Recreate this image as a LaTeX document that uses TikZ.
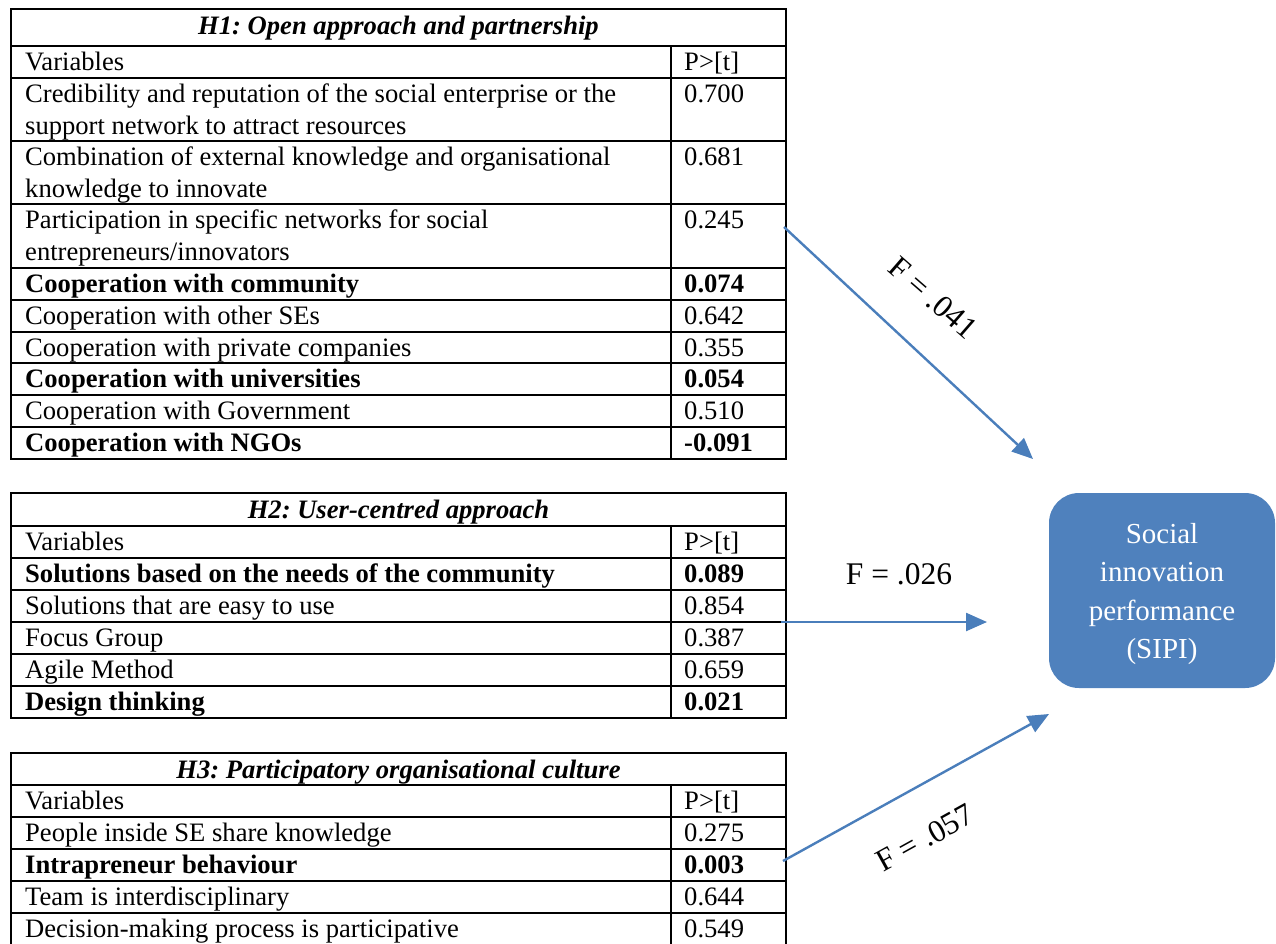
\documentclass[tikz,border=0pt]{standalone}
\usepackage{fontspec}
\setmainfont{Liberation Serif}
\usetikzlibrary{arrows.meta}
\definecolor{arrowblue}{HTML}{4A7EBB}
\definecolor{boxblue}{HTML}{4F81BD}
\newcommand\tabfont{\fontsize{26.6}{31.5}\selectfont}
\newcommand\flfont{\fontsize{31.5}{36}\selectfont}
\newcommand\boxfont{\fontsize{29}{38.5}\selectfont}
\frenchspacing
\begin{document}
\begin{tikzpicture}[x=1pt,y=-1pt,
  tline/.style={line width=1.7pt},
  cell/.style={anchor=base west,inner sep=0pt,font=\tabfont},
  bcell/.style={cell,font=\tabfont\bfseries},
  hcell/.style={anchor=base,inner sep=0pt,font=\tabfont\bfseries\itshape},
  conn/.style={draw=arrowblue,line width=2.4pt,-{Triangle[length=21pt,width=18pt]}},
  flabel/.style={font=\flfont,inner sep=0pt}
]
\useasboundingbox (0,0) rectangle (1276,943);

% ---------- Table H1 ----------
\draw[tline] (11,9) rectangle (786,459);
\foreach \y in {46,78,141,204,268,300,332,363,395,427} \draw[tline] (11,\y) -- (786,\y);
\draw[tline] (671,46) -- (671,459);
\node[hcell] (h1) at (398.5,34) {H1: Open approach and partnership};
\node[cell] (h1v) at (25,70.5) {Variables};
\node[cell] (h1p) at (684,70.5) {P>[t]};
\node[cell] (h1r1a) at (25,102.5) {Credibility and reputation of the social enterprise or the};
\node[cell] (h1r1b) at (25,134) {support network to attract resources};
\node[cell] (h1r1v) at (684,102.5) {0.700};
\node[cell] (h1r2a) at (25,165.5) {Combination of external knowledge and organisational};
\node[cell] (h1r2b) at (25,197) {knowledge to innovate};
\node[cell] (h1r2v) at (684,165.5) {0.681};
\node[cell] (h1r3a) at (25,228.5) {Participation in specific networks for social};
\node[cell] (h1r3b) at (25,260) {entrepreneurs/innovators};
\node[cell] (h1r3v) at (684,228.5) {0.245};
\node[bcell] (h1r4) at (25,292.5) {Cooperation with community};
\node[bcell] (h1r4v) at (684,292.5) {0.074};
\node[cell] (h1r5) at (25,324.5) {Cooperation with other SEs};
\node[cell] (h1r5v) at (684,324.5) {0.642};
\node[cell] (h1r6) at (25,356) {Cooperation with private companies};
\node[cell] (h1r6v) at (684,356) {0.355};
\node[bcell] (h1r7) at (25,387.5) {Cooperation with universities};
\node[bcell] (h1r7v) at (684,387.5) {0.054};
\node[cell] (h1r8) at (25,419.5) {Cooperation with Government};
\node[cell] (h1r8v) at (684,419.5) {0.510};
\node[bcell] (h1r9) at (25,451.5) {Cooperation with NGOs};
\node[bcell] (h1r9v) at (684,451.5) {-0.091};

% ---------- Table H2 ----------
\draw[tline] (11,493) rectangle (786,718);
\foreach \y in {526,558,590,622,654,686} \draw[tline] (11,\y) -- (786,\y);
\draw[tline] (671,526) -- (671,718);
\node[hcell] (h2) at (398.5,518.5) {H2: User-centred approach};
\node[cell] (h2v) at (25,550.5) {Variables};
\node[cell] (h2p) at (684,550.5) {P>[t]};
\node[bcell] (h2r1) at (25,582.5) {Solutions based on the needs of the community};
\node[bcell] (h2r1v) at (684,582.5) {0.089};
\node[cell] (h2r2) at (25,614.5) {Solutions that are easy to use};
\node[cell] (h2r2v) at (684,614.5) {0.854};
\node[cell] (h2r3) at (25,646.5) {Focus Group};
\node[cell] (h2r3v) at (684,646.5) {0.387};
\node[cell] (h2r4) at (25,678.5) {Agile Method};
\node[cell] (h2r4v) at (684,678.5) {0.659};
\node[bcell] (h2r5) at (25,710.5) {Design thinking};
\node[bcell] (h2r5v) at (684,710.5) {0.021};

% ---------- Table H3 ----------
\draw[tline] (11,753) rectangle (786,945);
\foreach \y in {785,817,849,881,913} \draw[tline] (11,\y) -- (786,\y);
\draw[tline] (671,785) -- (671,945);
\node[hcell] (h3) at (398.5,778) {H3: Participatory organisational culture};
\node[cell] (h3v) at (25,809.5) {Variables};
\node[cell] (h3p) at (684,809.5) {P>[t]};
\node[cell] (h3r1) at (25,841.5) {People inside SE share knowledge};
\node[cell] (h3r1v) at (684,841.5) {0.275};
\node[bcell] (h3r2) at (25,873.5) {Intrapreneur behaviour};
\node[bcell] (h3r2v) at (684,873.5) {0.003};
\node[cell] (h3r3) at (25,905.5) {Team is interdisciplinary};
\node[cell] (h3r3v) at (684,905.5) {0.644};
\node[cell] (h3r4) at (25,937.5) {Decision-making process is participative};
\node[cell] (h3r4v) at (684,937.5) {0.549};

% ---------- Outcome box ----------
\node[fill=boxblue, rounded corners=30pt, minimum width=226pt, minimum height=195pt,
      inner sep=0pt] (sipi) at (1162,590.5) {};
\node[text=white, align=center, font=\boxfont, inner sep=0pt] (sipitext) at (1162,594)
      {Social\\innovation\\performance\\(SIPI)};

% ---------- Connectors ----------
\coordinate (a1s) at (784,227);
\coordinate (a1e) at (1033,459);
\coordinate (a2s) at (781,622);
\coordinate (a2e) at (987,622);
\coordinate (a3s) at (783,861);
\coordinate (a3e) at (1049,714);
\draw[conn] (a1s) -- (a1e);
\draw[conn] (a2s) -- (a2e);
\draw[conn] (a3s) -- (a3e);
\node[flabel, rotate=-41] (f1) at (933,298) {F = .041};
\node[flabel] (f2) at (899,574) {F = .026};
\node[flabel, rotate=29] (f3) at (925,838) {F = .057};
\end{tikzpicture}
\end{document}
